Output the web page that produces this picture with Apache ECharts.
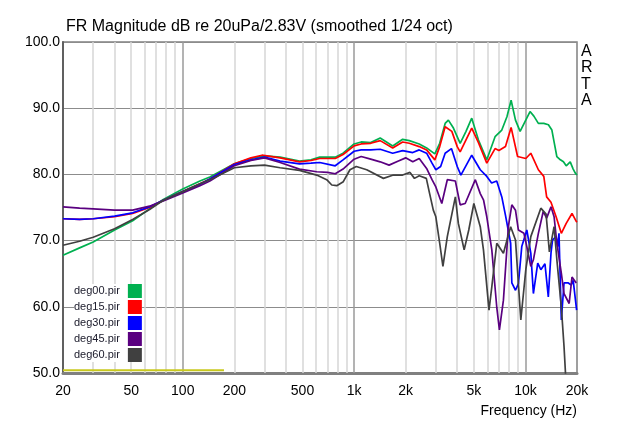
<!DOCTYPE html>
<html><head><meta charset="utf-8">
<script src="https://cdn.jsdelivr.net/npm/echarts@6/dist/echarts.min.js"></script>
<style>html,body{margin:0;padding:0;background:#fff}#c{width:640px;height:424px}</style>
</head><body><div id="c"></div>
<script>
const seriesNames = ['deg00.pir','deg15.pir','deg30.pir','deg45.pir','deg60.pir'];
const seriesColors = ['#00b050','#ff0000','#0000ff','#5a0080','#404040'];
const xLabelValues = [20,50,100,200,500,1000,2000,5000,10000,20000];
const majorX = [100,1000,10000];
const minorX = [30,40,50,60,70,80,90,200,300,400,500,600,700,800,900,2000,3000,4000,5000,6000,7000,8000,9000];

const deg00 = [[20,67.8],[25,68.9],[30,69.8],[40,71.6],[51,73.0],[64,74.8],[77,76.2],[100,77.8],[126,79.0],[144,79.6],[200,81.6],[250,82.4],[300,82.8],[370,82.6],[480,82.0],[560,82.2],[630,82.6],[776,82.6],[862,83.2],[1000,84.6],[1100,84.9],[1250,84.8],[1420,85.5],[1680,84.3],[1920,85.3],[2100,85.1],[2400,84.6],[2650,84.0],[2960,83.1],[3160,84.7],[3400,87.7],[3550,88.2],[3800,87.0],[4160,84.7],[4500,86.5],[4860,88.5],[5320,85.2],[5950,82.2],[6650,85.7],[7280,86.7],[7800,88.7],[8250,91.2],[8750,88.2],[9310,86.5],[10640,89.5],[11200,88.8],[11900,87.7],[12800,87.7],[13620,87.5],[14270,86.7],[14800,84.5],[15250,82.7],[16000,82.2],[16670,81.9],[17300,81.3],[18260,81.9],[19000,80.8],[19550,80.2],[20000,79.9]];
const deg15 = [[20,73.3],[25,73.2],[30,73.3],[40,73.6],[51,74.1],[64,75.0],[77,76.1],[100,77.4],[126,78.6],[144,79.3],[200,81.6],[250,82.5],[290,82.9],[370,82.5],[480,81.9],[560,82.1],[630,82.4],[776,82.4],[862,83.0],[1000,84.3],[1100,84.6],[1250,84.7],[1420,85.1],[1680,84.0],[1920,84.9],[2100,84.7],[2400,84.2],[2650,83.7],[2960,82.2],[3160,84.2],[3400,87.2],[3720,86.5],[4000,84.2],[4160,83.4],[4860,87.0],[5320,84.8],[5950,81.7],[6650,83.9],[7000,83.6],[7650,84.2],[8250,87.1],[9000,82.7],[10050,82.4],[10750,83.2],[11900,80.7],[12800,79.7],[13300,76.6],[14100,75.8],[15100,73.6],[16200,71.1],[17300,72.6],[18700,74.1],[19800,72.9],[20000,72.8]];
const deg30 = [[20,73.3],[25,73.2],[30,73.3],[40,73.7],[51,74.2],[64,75.1],[77,76.1],[100,77.4],[126,78.5],[144,79.3],[200,81.5],[250,82.2],[300,82.6],[370,82.0],[480,81.6],[560,81.7],[630,81.8],[776,81.3],[862,82.2],[1000,83.5],[1100,83.7],[1250,83.7],[1420,83.8],[1680,83.2],[1920,83.6],[2200,83.3],[2400,83.7],[2650,83.2],[2850,81.7],[3000,80.7],[3200,81.2],[3400,83.2],[3700,83.9],[4000,81.2],[4200,79.9],[4860,82.9],[5450,80.7],[5950,79.7],[6350,78.7],[6800,79.0],[7280,76.6],[7650,73.8],[8200,69.6],[8330,63.6],[8750,62.5],[9100,63.5],[9520,69.1],[10190,71.6],[10750,68.1],[11130,62.0],[11800,66.6],[12300,65.6],[13000,66.5],[13600,61.5],[14100,68.1],[14400,70.1],[15100,70.6],[15400,69.1],[15700,71.1],[16200,58.0],[16800,63.6],[17800,63.6],[18500,63.3],[19000,64.0],[19900,59.5]];
const deg45 = [[20,75.1],[25,74.9],[30,74.8],[40,74.6],[51,74.6],[64,75.2],[77,76.0],[100,77.2],[126,78.3],[144,79.0],[200,81.3],[250,82.1],[300,82.5],[370,81.8],[480,80.8],[605,80.4],[700,80.3],[776,80.1],[862,80.8],[1000,82.3],[1100,82.7],[1250,82.3],[1420,81.9],[1600,81.4],[1800,82.0],[2000,82.5],[2200,81.9],[2400,82.4],[2650,80.9],[2850,79.2],[3000,78.1],[3250,75.6],[3500,79.2],[3900,79.0],[4160,75.4],[4450,75.6],[5100,79.2],[5450,77.1],[5700,76.1],[5950,73.6],[6365,68.6],[6800,60.0],[7050,56.5],[7440,61.0],[7950,72.1],[8330,75.4],[8750,74.6],[9100,71.6],[9800,71.1],[10190,69.1],[10750,66.1],[11130,67.1],[11900,71.1],[12700,74.4],[13300,73.4],[14100,75.1],[14700,73.6],[15260,69.6],[16200,65.1],[16800,62.0],[18000,60.5],[18700,64.5],[19800,63.6]];
const deg60 = [[20,69.3],[25,69.9],[30,70.5],[40,71.8],[51,73.2],[64,74.7],[77,76.1],[100,77.4],[126,78.6],[144,79.2],[200,81.0],[250,81.3],[300,81.4],[370,81.0],[480,80.6],[605,79.9],[692,79.2],[741,78.4],[792,78.3],[865,78.9],[946,80.7],[1030,81.2],[1185,80.7],[1483,79.4],[1695,79.9],[1920,79.9],[2120,80.3],[2250,79.4],[2400,79.8],[2640,79.4],[2760,77.1],[2900,74.6],[3000,73.6],[3160,69.6],[3300,66.1],[3500,70.6],[3900,76.6],[4060,72.6],[4390,68.6],[4670,71.6],[5000,75.6],[5450,72.1],[5690,68.6],[6130,59.5],[6365,63.0],[6805,69.6],[7440,68.1],[8200,72.1],[8750,70.1],[9400,58.0],[10050,65.6],[10750,70.6],[12300,74.9],[13200,74.0],[13800,68.3],[14700,72.1],[15260,67.1],[16200,60.0],[16800,54.0],[17300,48.0]];
const refLine = [[20,50.4],[174,50.4]];

const curves = [deg00, deg15, deg30, deg45, deg60];

const chart = echarts.init(document.getElementById('c'));
const gridLines = [];
minorX.forEach(v => gridLines.push({xAxis: v, lineStyle: {color: '#d6d6d6', width: 1.5, type: 'solid'}}));
majorX.forEach(v => gridLines.push({xAxis: v, lineStyle: {color: '#9a9a9a', width: 1.5, type: 'solid'}}));

const series = [{
  type: 'line', data: refLine, symbol: 'none', z: 1, silent: true,
  lineStyle: {color: '#c8c81e', width: 2},
  markLine: {silent: true, z: 1, symbol: ['none','none'], label: {show: false}, animation: false, data: gridLines}
}];
curves.forEach((d, i) => series.push({
  name: seriesNames[i], type: 'line', data: d, symbol: 'none', showSymbol: false, z: 2,
  lineStyle: {color: seriesColors[i], width: 1.7}, itemStyle: {color: seriesColors[i]}
}));

chart.setOption({
  animation: false,
  backgroundColor: '#fff',
  title: {text: 'FR Magnitude dB re 20uPa/2.83V (smoothed 1/24 oct)', left: 66, top: 19, padding: 0,
    textStyle: {fontSize: 16, fontWeight: 'normal', fontFamily: 'Liberation Sans, Arial', color: '#000'}},
  grid: {left: 63, right: 63, top: 42, bottom: 51, show: true, borderColor: '#808080', borderWidth: 1.5},
  legend: {orient: 'vertical', left: 74, top: 284, align: 'right', icon: 'rect', itemWidth: 14, itemHeight: 14, itemGap: 2,
    padding: 0, backgroundColor: '#fff', z: 10, data: seriesNames,
    textStyle: {fontSize: 11, fontFamily: 'Liberation Sans, Arial', color: '#1a1a2a', padding: [0, 3, 0, 0]}},
  xAxis: {type: 'log', logBase: 10, min: 20, max: 20000,
    axisLine: {show: true, lineStyle: {color: '#808080', width: 3}},
    axisTick: {show: false}, splitLine: {show: false}, minorTick: {show: false}, minorSplitLine: {show: false},
    axisLabel: {customValues: xLabelValues, hideOverlap: false, showMinLabel: true, showMaxLabel: true,
      fontSize: 14, fontFamily: 'Liberation Sans, Arial', color: '#000', margin: 11,
      formatter: v => { const r = Math.round(v); return r >= 1000 ? (r / 1000) + 'k' : String(r); }}},
  yAxis: {type: 'value', min: 50, max: 100, interval: 10,
    axisLine: {show: true, lineStyle: {color: '#606060', width: 2}},
    axisTick: {show: false},
    splitLine: {show: true, lineStyle: {color: '#8c8c8c', width: 1}},
    axisLabel: {fontSize: 14, fontFamily: 'Liberation Sans, Arial', color: '#000', margin: 3,
      formatter: v => v.toFixed(1)}},
  graphic: [
    {type: 'text', left: 581, top: 43, style: {text: 'A\nR\nT\nA', font: '16px Liberation Sans, Arial', fill: '#000', lineHeight: 16.5}},
    {type: 'text', right: 63, top: 404, style: {text: 'Frequency (Hz)', font: '14px Liberation Sans, Arial', fill: '#000'}}
  ],
  series: series
});
</script></body></html>
